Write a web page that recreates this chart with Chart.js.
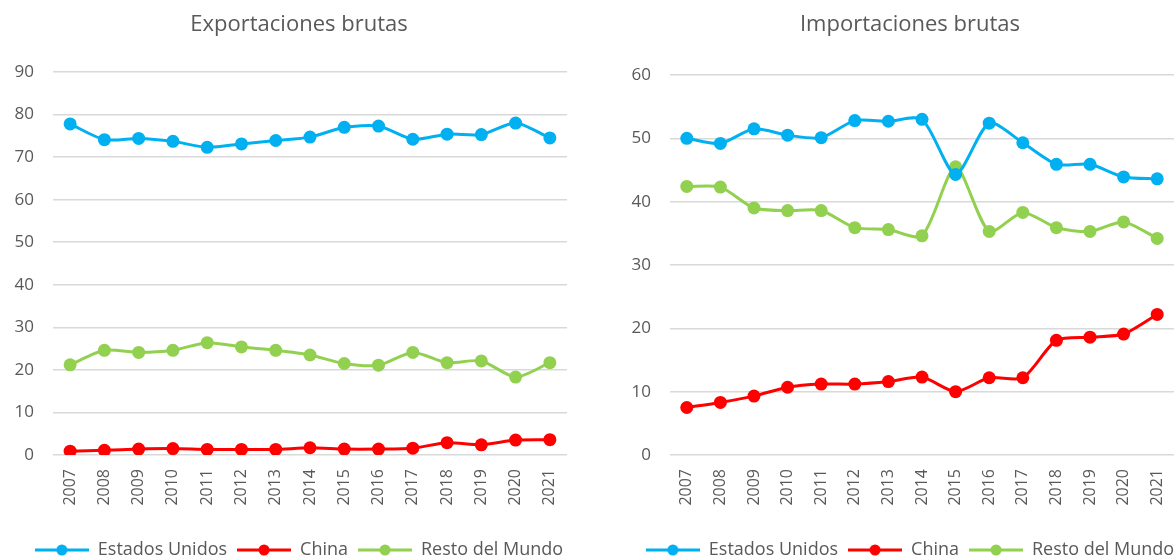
<!DOCTYPE html>
<html>
<head>
<meta charset="utf-8">
<script src="https://cdn.jsdelivr.net/npm/chart.js@4"></script>
<style>
  html,body{margin:0;padding:0;background:#fff;overflow:hidden;}
  #wrap{position:relative;width:1174px;height:559px;overflow:hidden;}
  .box{position:absolute;top:0;height:569px;}
</style>
</head>
<body>
<div id="wrap">
  <div class="box" style="left:0;width:598px"><canvas id="cExp"></canvas></div>
  <div class="box" style="left:600px;width:620px"><canvas id="cImp"></canvas></div>
</div>
<script>
// ======= Datos =======
const years = ['2007','2008','2009','2010','2011','2012','2013','2014','2015','2016','2017','2018','2019','2020','2021'];
const seriesNames = ['Estados Unidos','China','Resto del Mundo'];
const colors = ['#00B0F0','#FF0000','#92D050'];

const expUSA   = [77.8,74.1,74.4,73.7,72.3,73.1,73.9,74.7,77.0,77.3,74.2,75.4,75.3,78.0,74.5];
const expChina = [0.9,1.1,1.4,1.5,1.3,1.3,1.3,1.7,1.4,1.4,1.6,2.9,2.4,3.5,3.6];
const expResto = [21.2,24.6,24.1,24.6,26.4,25.4,24.6,23.5,21.5,21.1,24.1,21.7,22.1,18.3,21.7];

const impUSA   = [50.0,49.2,51.5,50.5,50.1,52.8,52.7,53.0,44.3,52.4,49.3,45.9,45.9,43.9,43.6];
const impChina = [7.5,8.3,9.3,10.7,11.2,11.2,11.6,12.3,10.0,12.2,12.2,18.1,18.6,19.1,22.2];
const impResto = [42.4,42.3,39.0,38.6,38.6,35.9,35.6,34.6,45.5,35.3,38.3,35.9,35.3,36.8,34.2];

const FONT = "'Open Sans', sans-serif";
const TXT = '#595959';
const GRID = '#d9d9d9';

// ======= Icono de leyenda (línea + punto) =======
function legendIcon(color){
  const c=document.createElement('canvas');
  c.width=54;c.height=14;
  const g=c.getContext('2d');
  g.strokeStyle=color;g.lineWidth=3;
  g.beginPath();g.moveTo(0,7);g.lineTo(54,7);g.stroke();
  g.fillStyle=color;
  g.beginPath();g.arc(27,7,5.5,0,Math.PI*2);g.fill();
  return c;
}
const icons = colors.map(legendIcon);

function makeDatasets(arrs){
  return arrs.map((d,i)=>({
    label:seriesNames[i],
    data:d,
    borderColor:colors[i],
    backgroundColor:colors[i],
    borderWidth:3,
    pointRadius:6.5,
    pointHoverRadius:6.5,
    pointBorderWidth:0,
    tension:0.25
  }));
}

// eje derecho vacío: solo reserva espacio para que leyenda y título queden centrados en todo el canvas
function makeChart(id,title,arrs,yMax,yWidth,rightGap,titleGap){
  return new Chart(document.getElementById(id),{
    type:'line',
    data:{labels:years,datasets:makeDatasets(arrs)},
    options:{
      responsive:true,
      maintainAspectRatio:false,
      animation:false,
      layout:{padding:0},
      plugins:{
        title:{display:true,text:title,color:TXT,font:{family:FONT,size:22,weight:'normal'},padding:{top:12,bottom:titleGap}},
        legend:{
          position:'bottom',
          labels:{
            usePointStyle:true,
            pointStyleWidth:54,
            padding:10,
            color:TXT,
            font:{family:FONT,size:18},
            generateLabels:(chart)=>chart.data.datasets.map((ds,i)=>({
              text:ds.label,fillStyle:ds.borderColor,strokeStyle:ds.borderColor,
              pointStyle:icons[i],datasetIndex:i,hidden:false,lineWidth:0,fontColor:TXT
            }))
          }
        },
        tooltip:{enabled:false}
      },
      scales:{
        x:{
          offset:true,
          grid:{display:false},
          border:{display:false},
          ticks:{color:TXT,font:{family:FONT,size:16},minRotation:90,maxRotation:90,padding:6},
          afterFit:(s)=>{s.height=76;}
        },
        y:{
          min:0,max:yMax,
          grid:{color:GRID,lineWidth:1.5,drawTicks:false},
          border:{display:false},
          ticks:{stepSize:10,color:TXT,font:{family:FONT,size:17},padding:19},
          afterFit:(s)=>{s.width=yWidth;}
        },
        gap:{
          position:'right',
          grid:{display:false},
          border:{display:false},
          ticks:{display:false},
          afterFit:(s)=>{s.width=rightGap;}
        }
      }
    }
  });
}

makeChart('cExp','Exportaciones brutas',[expUSA,expChina,expResto],90,53,31,33.6);
makeChart('cImp','Importaciones brutas',[impUSA,impChina,impResto],60,70,46,36.6);
</script>
</body>
</html>
